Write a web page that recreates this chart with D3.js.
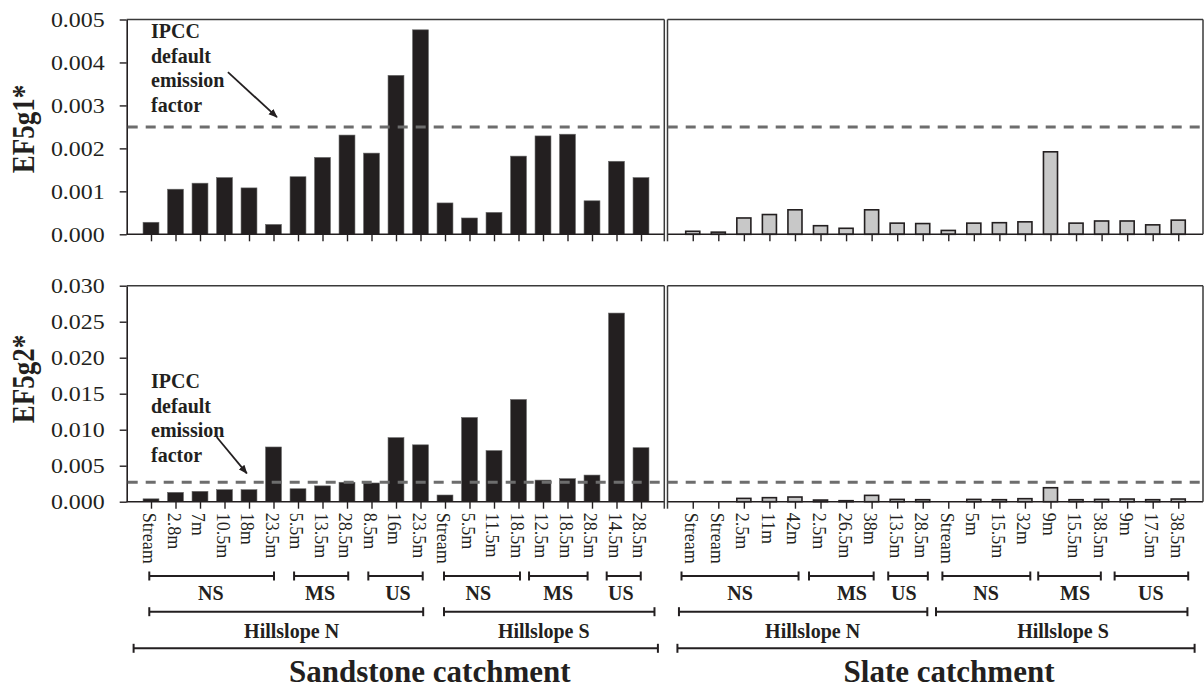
<!DOCTYPE html>
<html>
<head>
<meta charset="utf-8">
<script src="https://cdn.jsdelivr.net/npm/d3@7"></script>
<style>
  body { margin: 0; background: #fff; }
  svg { display: block; }
  text { font-family: "Liberation Serif", "Times New Roman", serif; fill: #231f20; }
</style>
</head>
<body>
<svg id="chart" width="1204" height="689"></svg>
<script>
// ---- data -------------------------------------------------------------
const sandstoneLabels = ["Stream","2.8m","7m","10.5m","18m","23.5m","5.5m","13.5m","28.5m","8.5m","16m","23.5m",
                         "Stream","5.5m","11.5m","18.5m","12.5m","18.5m","28.5m","14.5m","28.5m"];
const slateLabels = ["Stream","Stream","2.5m","11m","42m","2.5m","26.5m","38m","13.5m","28.5m",
                     "Stream","5m","15.5m","32m","9m","15.5m","38.5m","9m","17.5m","38.5m"];

const sandstoneEF5g1 = [0.00028,0.00105,0.00119,0.00132,0.00108,0.00023,0.00134,0.00179,0.00231,0.00189,0.00370,0.00476,
                        0.00073,0.00038,0.00051,0.00182,0.00229,0.00233,0.00078,0.00170,0.00132];
const slateEF5g1 = [0.00007,0.00005,0.00038,0.00046,0.00057,0.00020,0.00014,0.00057,0.00026,0.00025,
                    0.00009,0.00026,0.00027,0.00029,0.00192,0.00026,0.00031,0.00031,0.00022,0.00033];
const sandstoneEF5g2 = [0.0004,0.0013,0.00144,0.00167,0.00167,0.0076,0.0018,0.0022,0.0027,0.0026,0.0089,0.0079,
                        0.00093,0.0117,0.0071,0.0142,0.0030,0.0032,0.0037,0.0262,0.0075];
const slateEF5g2 = [0,0,0.00046,0.00056,0.00065,0.00023,0.00014,0.00088,0.00032,0.00028,
                    0,0.00032,0.00028,0.00042,0.00194,0.00028,0.00032,0.00037,0.00028,0.00037];

const ef5g1Ticks = [0, 0.001, 0.002, 0.003, 0.004, 0.005];
const ef5g2Ticks = [0, 0.005, 0.010, 0.015, 0.020, 0.025, 0.030];
const ipccEF5g1 = 0.0025;
const ipccEF5g2 = 0.0027;
const ipccNote = ["IPCC", "default", "emission", "factor"];

const slopeNames = ["NS", "MS", "US", "NS", "MS", "US"];
const hillslopeNames = ["Hillslope N", "Hillslope S"];
const catchmentNames = ["Sandstone catchment", "Slate catchment"];

// ---- layout (bracket spans and label centres in category-index units) --
const sandstoneSlopeSpans = [[-0.07,5.02,2.44],[5.84,8.05,6.9],[8.87,11.09,10.08],[11.96,15.06,13.36],[15.43,17.82,16.62],[18.6,19.99,19.18]];
const slateSlopeSpans     = [[-0.44,4.14,1.85],[4.55,7.08,6.23],[7.65,9.2,8.26],[9.77,13.21,11.48],[13.52,15.97,14.96],[16.51,19.39,17.93]];
const sandstoneHillSpans  = [[-0.07,11.11,5.74],[11.96,20.55,16.03]];
const slateHillSpans      = [[-0.54,9.18,4.69],[9.52,19.36,14.49]];
const sandstoneCatchSpan  = [-0.71,20.69,11.38];
const slateCatchSpan      = [-0.6,19.64,10.03];

const INK = "#231f20";
const svg = d3.select("#chart");

const xL = d3.scalePoint().domain(d3.range(sandstoneLabels.length)).range([126.5, 665.5]).padding(1);
const xR = d3.scalePoint().domain(d3.range(slateLabels.length)).range([667.2, 1203.8]).padding(1);
const idxL = d3.scaleLinear().domain([0, sandstoneLabels.length - 1]).range([xL(0), xL(sandstoneLabels.length - 1)]);
const idxR = d3.scaleLinear().domain([0, slateLabels.length - 1]).range([xR(0), xR(slateLabels.length - 1)]);

const rows = [
  { top: 19.5, base: 234.3, ticks: ef5g1Ticks, left: sandstoneEF5g1, right: slateEF5g1, ipcc: ipccEF5g1,
    title: "EF5g1*", titleY: 129, labels: false,
    note: { v: 0.00457, arrow: [[3.14, 0.003774], [5.14, 0.002728]] } },
  { top: 285.7, base: 501.7, ticks: ef5g2Ticks, left: sandstoneEF5g2, right: slateEF5g2, ipcc: ipccEF5g2,
    title: "EF5g2*", titleY: 379, labels: true,
    note: { v: 0.0158, arrow: [[2.68, 0.008986], [3.91, 0.003944]] } }
];

const defs = svg.append("defs");
defs.append("marker").attr("id", "arrowhead").attr("viewBox", "0 0 10 10")
  .attr("refX", 9).attr("refY", 5).attr("markerWidth", 5).attr("markerHeight", 5)
  .attr("orient", "auto").attr("markerUnits", "strokeWidth")
  .append("path").attr("d", "M0,1 L10,5 L0,9 z").attr("fill", INK);

const fmt = d3.format(".3f");
const axisX0 = 126.7, divL = 664.3, divR = 667.5, rightEdge = 1203;

rows.forEach(row => {
  const y = d3.scaleLinear().domain([0, row.ticks[row.ticks.length - 1]]).range([row.base, row.top]);
  const g = svg.append("g");

  // bars: sandstone (black)
  const bwL = xL.step() * 0.65;
  g.selectAll("rect.l").data(row.left).join("rect").attr("class", "l")
    .attr("x", (d, i) => xL(i) - bwL / 2).attr("width", bwL)
    .attr("y", d => y(d)).attr("height", d => y(0) - y(d))
    .attr("fill", INK).attr("stroke", "#6a6a6a").attr("stroke-width", 0.6);

  // bars: slate (grey, outlined); zero values leave no bar
  const bwR = xR.step() * 0.55;
  g.selectAll("rect.r").data(row.right).join("rect").attr("class", "r")
    .attr("x", (d, i) => xR(i) - bwR / 2).attr("width", bwR)
    .attr("y", d => y(d)).attr("height", d => y(0) - y(d))
    .attr("fill", "#c8c8c8").attr("stroke", INK).attr("stroke-width", 1.6)
    .attr("visibility", d => d > 0 ? "visible" : "hidden");

  // left value axis
  const ya = g.append("g").attr("transform", `translate(${axisX0},0)`)
    .call(d3.axisLeft(y).tickValues(row.ticks).tickFormat(fmt).tickSize(7).tickSizeOuter(0));
  ya.select(".domain").attr("stroke", INK).attr("stroke-width", 1.6);
  ya.selectAll(".tick line").attr("stroke", INK).attr("stroke-width", 1.4);
  ya.selectAll(".tick text").attr("x", 0).attr("dy", "0.34em")
    .attr("transform", "translate(-22,0) scale(1.14,1)")
    .style("font-size", "21px").attr("fill", INK);

  // category axes
  [[xL, 126.5, divL], [xR, divR, rightEdge]].forEach(([xs, a, b]) => {
    const xa = g.append("g").attr("transform", `translate(0,${row.base})`)
      .call(d3.axisBottom(xs).tickSize(7).tickSizeOuter(0).tickFormat(""));
    xa.select(".domain").remove();
    xa.selectAll(".tick line").attr("stroke", INK).attr("stroke-width", 1.4);
    g.append("line").attr("x1", a).attr("x2", b).attr("y1", row.base).attr("y2", row.base)
      .attr("stroke", INK).attr("stroke-width", 1.6);
  });

  // panel frames
  const frame = [
    [axisX0, row.top, divL, row.top], [divL, row.top, divL, row.base + 7],
    [divR, row.top, rightEdge, row.top], [divR, row.top, divR, row.base + 7],
    [rightEdge, row.top, rightEdge, row.base]
  ];
  g.selectAll("line.frame").data(frame).join("line").attr("class", "frame")
    .attr("x1", d => d[0]).attr("y1", d => d[1]).attr("x2", d => d[2]).attr("y2", d => d[3])
    .attr("stroke", "#3a3a3a").attr("stroke-width", 1.5);

  // IPCC default emission factor
  g.append("line").attr("x1", axisX0 + 1).attr("x2", rightEdge)
    .attr("y1", y(row.ipcc)).attr("y2", y(row.ipcc))
    .attr("stroke", "#6d6d6d").attr("stroke-width", 3).attr("stroke-dasharray", "10,8");

  const noteY = y(row.note.v);
  g.selectAll("text.note").data(ipccNote).join("text").attr("class", "note")
    .attr("x", idxL(0)).attr("y", (d, i) => noteY + i * 24.6)
    .style("font-size", "20px").style("font-weight", "bold").text(d => d);
  const [[ai, av], [bi, bv]] = row.note.arrow;
  g.append("line").attr("x1", idxL(ai)).attr("y1", y(av)).attr("x2", idxL(bi)).attr("y2", y(bv))
    .attr("stroke", INK).attr("stroke-width", 1.8).attr("marker-end", "url(#arrowhead)");

  // row title
  svg.append("text")
    .attr("transform", `translate(33.5,${row.titleY}) rotate(-90) scale(1,1.2)`)
    .attr("text-anchor", "middle").style("font-size", "27px").style("font-weight", "bold")
    .text(row.title);

  // sample-position labels
  if (row.labels) {
    [[xL, sandstoneLabels], [xR, slateLabels]].forEach(([xs, labs]) => {
      svg.selectAll(null).data(labs).join("text")
        .attr("transform", (d, i) => `translate(${xs(i)},${row.base + 11}) rotate(90)`)
        .attr("dy", "0.42em").style("font-size", "18px").text(d => d);
    });
  }
});

// ---- grouping brackets ---------------------------------------------------
function bracket(xs, span, yLine, name, size, textY) {
  const [a, b, c] = span;
  const g = svg.append("g").attr("stroke", INK).attr("stroke-width", 2);
  g.append("line").attr("x1", xs(a)).attr("x2", xs(b)).attr("y1", yLine).attr("y2", yLine);
  g.append("line").attr("x1", xs(a)).attr("x2", xs(a)).attr("y1", yLine - 4.5).attr("y2", yLine + 4.5);
  g.append("line").attr("x1", xs(b)).attr("x2", xs(b)).attr("y1", yLine - 4.5).attr("y2", yLine + 4.5);
  svg.append("text").attr("x", xs(c)).attr("y", textY).attr("text-anchor", "middle")
    .style("font-size", size + "px").style("font-weight", "bold").text(name);
}

sandstoneSlopeSpans.forEach((s, i) => bracket(idxL, s, 576, slopeNames[i], 20, 600));
slateSlopeSpans.forEach((s, i) => bracket(idxR, s, 576, slopeNames[i], 20, 600));
sandstoneHillSpans.forEach((s, i) => bracket(idxL, s, 611.7, hillslopeNames[i], 20, 637.5));
slateHillSpans.forEach((s, i) => bracket(idxR, s, 611.7, hillslopeNames[i], 20, 637.5));
bracket(idxL, sandstoneCatchSpan, 648.3, catchmentNames[0], 31, 682);
bracket(idxR, slateCatchSpan, 648.3, catchmentNames[1], 31, 682);
</script>
</body>
</html>
